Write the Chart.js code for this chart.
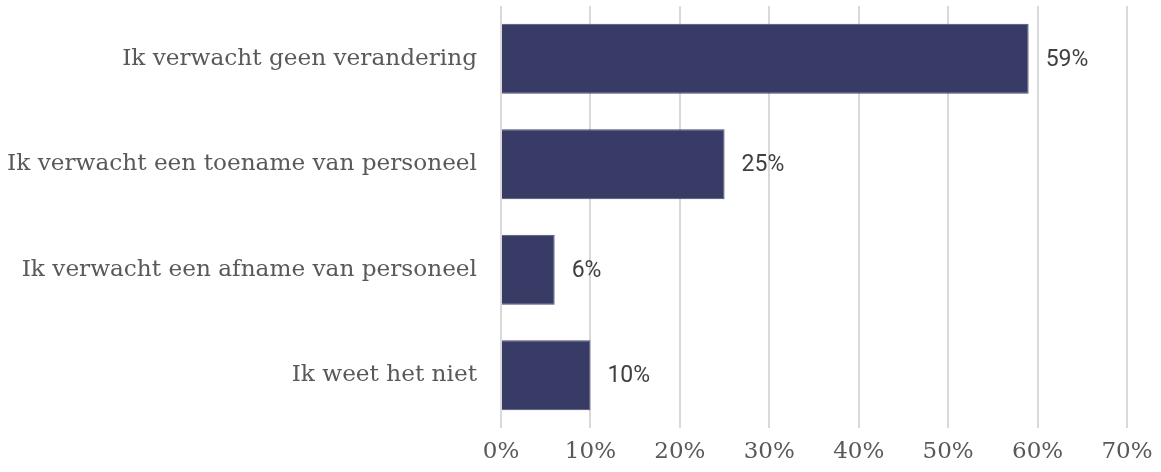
<!DOCTYPE html>
<html>
<head>
<meta charset="utf-8">
<script src="https://cdn.jsdelivr.net/npm/chart.js@4"></script>
<style>
  html, body { margin: 0; padding: 0; background: #fff; }
  #wrap { width: 1161px; height: 472px; }
</style>
</head>
<body>
<div id="wrap"><canvas id="grafico-personeel" width="1161" height="472"></canvas></div>
<script>
const categorieen = [
    "Ik verwacht geen verandering",
    "Ik verwacht een toename van personeel",
    "Ik verwacht een afname van personeel",
    "Ik weet het niet"
];
const percentages = [59, 25, 6, 10];
const tickStappen = [0, 10, 20, 30, 40, 50, 60, 70];

// waarde naast elke balk schrijven
const waardeLabels = {
    id: 'waardeLabels',
    afterDatasetsDraw(chart) {
        const ctx = chart.ctx;
        const meta = chart.getDatasetMeta(0);
        ctx.save();
        ctx.font = '23px Roboto';
        ctx.fillStyle = '#404040';
        ctx.textAlign = 'left';
        ctx.textBaseline = 'middle';
        meta.data.forEach((bar, i) => {
            ctx.fillText(percentages[i] + '%', bar.x + 17, bar.y + 1);
        });
        ctx.restore();
    }
};

const ctx = document.getElementById('grafico-personeel').getContext('2d');

new Chart(ctx, {
    type: 'bar',
    data: {
        labels: categorieen,
        datasets: [{
            data: percentages,
            backgroundColor: '#383b66',
            borderColor: '#4a4d75',
            borderWidth: 1,
            barPercentage: 0.665,
            categoryPercentage: 1
        }]
    },
    options: {
        indexAxis: 'y',
        responsive: false,
        animation: false,
        layout: { padding: { top: 6, right: 34, left: 0, bottom: 0 } },
        plugins: {
            legend: { display: false },
            tooltip: { enabled: false }
        },
        scales: {
            x: {
                min: 0,
                max: 70,
                afterBuildTicks(scale) {
                    scale.ticks = tickStappen.map(v => ({ value: v }));
                },
                afterFit(scale) {
                    scale.height = 44;
                    scale.paddingLeft = 0;
                    scale.paddingRight = 0;
                },
                grid: { color: '#d9d9d9', lineWidth: 2, drawTicks: false },
                border: { display: false },
                ticks: {
                    padding: 10,
                    color: '#595959',
                    font: { family: 'DejaVu Serif', size: 23 },
                    callback: v => v + '%'
                }
            },
            y: {
                afterFit(scale) {
                    scale.width = 501;
                    // geen extra ruimte boven/onder voor de labels
                    scale.paddingTop = 0;
                    scale.paddingBottom = 0;
                },
                grid: { display: false, drawTicks: false },
                border: { display: false },
                ticks: {
                    padding: 24,
                    color: '#595959',
                    font: { family: 'DejaVu Serif', size: 23.2 }
                }
            }
        }
    },
    plugins: [waardeLabels]
});
</script>
</body>
</html>
